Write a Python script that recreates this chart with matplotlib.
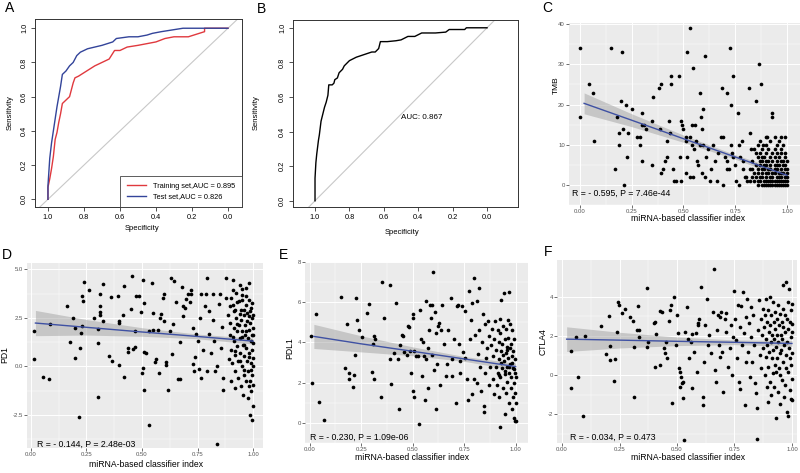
import matplotlib
matplotlib.use("Agg")
import matplotlib.pyplot as plt

plt.rcParams["font.family"] = ["Liberation Sans", "DejaVu Sans"]

W, H = 800, 473

# ---------------- ROC data ----------------
train_spec = [1.0, 1.0, 0.99, 0.98, 0.97, 0.96, 0.95, 0.94, 0.93, 0.92, 0.90, 0.88, 0.87, 0.86,
              0.85, 0.83, 0.80, 0.77, 0.74, 0.70, 0.66, 0.63, 0.60, 0.56, 0.50, 0.45, 0.40,
              0.35, 0.30, 0.22, 0.13, 0.13, 0.0]
train_sens = [0.0, 0.07, 0.12, 0.18, 0.25, 0.35, 0.39, 0.45, 0.50, 0.56, 0.58, 0.60, 0.64, 0.68,
              0.71, 0.72, 0.74, 0.76, 0.78, 0.80, 0.82, 0.87, 0.87, 0.89, 0.90, 0.91, 0.92,
              0.94, 0.95, 0.95, 0.98, 1.0, 1.0]
test_spec = [1.0, 1.0, 0.99, 0.98, 0.97, 0.96, 0.95, 0.94, 0.93, 0.92, 0.91, 0.90, 0.88, 0.86,
             0.84, 0.82, 0.80, 0.78, 0.74, 0.70, 0.64, 0.62, 0.55, 0.50, 0.45, 0.42, 0.37,
             0.25, 0.15, 0.0]
test_sens = [0.0, 0.08, 0.24, 0.33, 0.40, 0.47, 0.54, 0.60, 0.66, 0.73, 0.74, 0.75, 0.78, 0.80,
             0.84, 0.86, 0.87, 0.88, 0.89, 0.90, 0.92, 0.94, 0.95, 0.95, 0.96, 0.97, 0.98,
             1.0, 1.0, 1.0]
all_spec = [1.0, 1.0, 0.995, 0.99, 0.985, 0.98, 0.975, 0.97, 0.965, 0.955, 0.945, 0.935, 0.925,
            0.92, 0.90, 0.89, 0.885, 0.87, 0.86, 0.85, 0.84, 0.83, 0.82, 0.80, 0.78, 0.76,
            0.73, 0.70, 0.67, 0.65, 0.63, 0.62, 0.58, 0.53, 0.50, 0.46, 0.42, 0.38, 0.30,
            0.24, 0.22, 0.13, 0.12, 0.0]
all_sens = [0.0, 0.13, 0.22, 0.27, 0.31, 0.35, 0.38, 0.42, 0.46, 0.50, 0.54, 0.57, 0.61,
            0.67, 0.67, 0.68, 0.70, 0.71, 0.74, 0.75, 0.76, 0.78, 0.79, 0.81, 0.82, 0.83,
            0.84, 0.85, 0.86, 0.86, 0.88, 0.92, 0.92, 0.925, 0.93, 0.95, 0.95, 0.97, 0.97,
            0.975, 0.99, 0.99, 1.0, 1.0]
roc_labels = ["Training set,AUC = 0.895", "Test set,AUC = 0.826"]
auc_all = "AUC: 0.867"

# ---------------- scatter data ----------------
tmb_points = [
    (0.00, 34), (0.00, 17), (0.045, 25), (0.065, 23), (0.07, 11), (0.15, 34), (0.205, 33),
    (0.20, 21), (0.22, 20), (0.18, 17), (0.19, 13), (0.19, 10), (0.17, 4), (0.21, 14),
    (0.23, 13), (0.225, 7), (0.215, 0), (0.25, 19), (0.275, 12), (0.29, 12), (0.29, 10),
    (0.30, 18), (0.30, 15), (0.31, 15), (0.32, 14), (0.30, 6), (0.355, 22), (0.35, 16),
    (0.38, 24), (0.39, 25), (0.385, 14), (0.39, 3), (0.40, 4), (0.35, 5), (0.41, 6),
    (0.42, 11), (0.43, 16), (0.44, 27), (0.44, 25), (0.435, 13), (0.42, 7), (0.45, 4),
    (0.455, 1), (0.465, 1), (0.48, 27), (0.49, 16), (0.495, 15), (0.50, 14), (0.485, 7),
    (0.49, 1), (0.51, 12), (0.51, 11), (0.51, 3), (0.515, 7), (0.53, 39), (0.515, 33),
    (0.545, 29), (0.555, 15), (0.54, 15), (0.53, 2), (0.545, 2), (0.53, 12), (0.54, 10),
    (0.55, 9), (0.56, 11), (0.565, 6), (0.57, 5), (0.58, 23), (0.585, 17), (0.595, 19),
    (0.605, 32), (0.59, 14), (0.58, 10), (0.595, 10), (0.59, 3), (0.605, 2), (0.61, 7),
    (0.62, 9), (0.63, 1), (0.635, 4), (0.645, 10), (0.65, 6), (0.66, 1), (0.665, 8),
    (0.68, 12), (0.685, 24), (0.69, 0), (0.69, 12), (0.70, 7), (0.71, 23), (0.71, 6),
    (0.71, 4), (0.72, 4), (0.725, 34), (0.73, 20), (0.73, 10), (0.74, 27), (0.735, 8),
    (0.74, 7), (0.75, 5), (0.755, 1), (0.765, 18), (0.77, 10), (0.77, 0), (0.775, 7),
    (0.785, 11), (0.79, 6), (0.79, 4), (0.795, 2), (0.805, 1), (0.815, 24), (0.82, 13),
    (0.825, 9), (0.83, 4), (0.85, 21), (0.865, 30), (0.875, 25), (0.93, 18), (0.93, 17),
    (0.94, 12), (0.905, 12), (0.885, 10), (0.99, 12),
]
tmb_rows = {
    0: [0.86, 0.88, 0.89, 0.90, 0.91, 0.92, 0.93, 0.94, 0.95, 0.96, 0.97, 0.98, 0.99, 1.0],
    1: [0.82, 0.84, 0.86, 0.87, 0.89, 0.90, 0.91, 0.92, 0.93, 0.94, 0.95, 0.96, 0.97, 0.98, 0.99, 1.0],
    2: [0.80, 0.83, 0.85, 0.87, 0.88, 0.90, 0.92, 0.93, 0.95, 0.96, 0.97, 0.99, 1.0],
    3: [0.84, 0.86, 0.88, 0.90, 0.91, 0.93, 0.94, 0.96, 0.97, 0.98, 1.0],
    4: [0.82, 0.86, 0.88, 0.89, 0.91, 0.92, 0.94, 0.95, 0.97, 0.99, 1.0],
    5: [0.85, 0.87, 0.89, 0.90, 0.92, 0.94, 0.95, 0.96, 0.98, 0.99],
    6: [0.83, 0.87, 0.88, 0.90, 0.91, 0.93, 0.95, 0.97, 0.98, 1.0],
    7: [0.86, 0.88, 0.89, 0.92, 0.94, 0.96, 0.99],
    8: [0.85, 0.87, 0.90, 0.93, 0.95, 0.97, 0.99],
    9: [0.84, 0.88, 0.91, 0.94, 0.97],
    10: [0.86, 0.90, 0.95, 0.98],
    11: [0.87, 0.92, 0.96],
    12: [0.90, 0.97],
}

pd1_points = [
    (0.015, 1.8), (0.015, 0.4), (0.055, -0.55), (0.08, -0.65), (0.085, 2.2), (0.16, 3.1),
    (0.175, 1.25), (0.19, 2.5), (0.2, 2.0), (0.2, 0.45), (0.215, -2.6), (0.22, 0.95),
    (0.225, 1.7), (0.23, 3.6), (0.235, 3.35), (0.24, 4.35), (0.23, 2.1), (0.26, 3.95),
    (0.285, 2.5), (0.30, -1.55), (0.30, 1.2), (0.30, 1.9), (0.31, 3.1), (0.31, 2.8),
    (0.31, 2.65), (0.31, 3.75), (0.325, 4.25), (0.325, 2.35), (0.35, 0.55), (0.36, 3.55),
    (0.365, 0.3), (0.39, 3.6), (0.395, 2.35), (0.395, 2.25), (0.395, 0.05), (0.42, 4.15),
    (0.42, -0.55), (0.415, 2.65), (0.435, 0.95), (0.435, 0.75), (0.45, 2.95), (0.455, 4.65),
    (0.46, 0.9), (0.47, 1.0), (0.47, 1.8), (0.475, 3.6), (0.485, 3.6), (0.495, 2.8),
    (0.505, 4.45), (0.51, 0.75), (0.51, 3.25), (0.505, -0.1), (0.5, -0.35), (0.51, -1.2),
    (0.52, 0.7), (0.53, 1.8), (0.53, -3.0), (0.545, 4.3), (0.55, 1.85), (0.55, 2.75),
    (0.56, 0.2), (0.565, 0.4), (0.57, 1.85), (0.575, -0.35), (0.58, 2.5), (0.585, 2.7),
    (0.595, 3.5), (0.6, 3.75), (0.6, 2.35), (0.61, 0.25), (0.61, 0.05), (0.615, -1.2),
    (0.625, 1.8), (0.63, 4.55), (0.635, 0.65), (0.64, 2.2), (0.645, 4.4), (0.655, 3.3),
    (0.66, -0.65), (0.67, -0.65), (0.67, 1.25), (0.68, 4.1), (0.685, 3.1), (0.685, 2.6),
    (0.695, 3.0), (0.7, 3.45), (0.705, 3.7), (0.715, 3.3), (0.72, 3.95), (0.72, 3.75),
    (0.73, 1.95), (0.73, 0.1), (0.735, -0.25), (0.74, 0.5), (0.745, 1.65), (0.75, 1.3),
    (0.755, -0.15), (0.76, 2.5), (0.765, -0.6), (0.765, 3.7), (0.775, 0.85), (0.785, 3.1),
    (0.79, 3.7), (0.795, 4.55), (0.795, -0.25), (0.8, 2.85), (0.8, 1.65), (0.81, 0.7),
    (0.82, 3.7), (0.82, 2.4), (0.825, 1.3), (0.83, -0.25), (0.84, 0.0), (0.84, -4.0),
    (0.845, 3.2), (0.85, 3.75), (0.855, 0.95), (0.86, 2.05), (0.865, -1.2), (0.865, -0.6),
    (0.88, 4.55), (0.88, 3.5),
    (0.888, 2.66), (0.895, 3.09), (0.895, 2.23), (0.898, 1.63), (0.901, 0.86), (0.903, -0.77),
    (0.906, 0.17), (0.91, 4.47), (0.91, 3.95), (0.91, 3.18), (0.913, 2.84), (0.915, 1.98),
    (0.916, 1.29), (0.918, 0.6), (0.919, -0.26), (0.921, -1.12), (0.925, 3.78), (0.925, 2.49),
    (0.928, 1.8), (0.93, 1.03), (0.931, 0.26), (0.933, -0.6), (0.937, 3.35), (0.937, 2.15),
    (0.94, 4.21), (0.94, 1.46), (0.943, 0.69), (0.945, -1.03), (0.948, 2.92), (0.948, 2.41),
    (0.949, 0.0), (0.952, 3.69), (0.952, 1.8), (0.955, 1.12), (0.955, -1.46), (0.958, 2.66),
    (0.96, 0.52), (0.961, -0.43), (0.963, 2.15), (0.964, 1.63), (0.967, 4.04), (0.967, 3.18),
    (0.97, 0.95), (0.97, -0.77), (0.972, 0.26), (0.973, 2.75), (0.975, 2.32), (0.976, -1.63),
    (0.978, 1.46), (0.979, -0.26), (0.981, 3.44), (0.982, 1.89), (0.984, 0.69), (0.985, 2.84),
    (0.985, -2.49), (0.987, -0.77), (0.988, 2.23), (0.99, 1.29), (0.991, 0.17), (0.993, -1.29),
    (0.994, -2.75), (0.994, 3.26), (0.996, 2.49), (0.996, 1.63), (0.997, 0.86), (0.997, -0.43),
    (0.999, 0.43), (0.999, -2.06), (0.999, 1.2), (0.999, 2.66), (0.999, 0.0), (0.999, 1.98),
    (0.999, -0.95), (0.999, 1.63), (0.92, 2.9), (0.93, 3.3), (0.94, 2.7), (0.95, 3.4),
    (0.96, 2.9), (0.97, 3.6), (0.98, 2.6), (0.99, 3.0), (0.93, 2.2), (0.95, 1.5), (0.96, 1.1),
    (0.98, 0.5), (0.99, -0.2), (0.97, 1.8), (0.92, 0.8), (0.94, 0.3), (0.96, -0.2),
    (0.98, -1.0), (0.91, 1.5), (0.89, 0.4), (0.9, 3.5), (0.95, 4.0), (0.98, 4.3),
]

pdl1_points = [
    (0.008, 4.33), (0.01, 2.0), (0.03, 5.4), (0.045, 1.06), (0.07, 0.15), (0.15, 6.26),
    (0.18, 4.9), (0.17, 2.75), (0.19, 2.5), (0.19, 2.2), (0.21, 1.77), (0.215, 2.38),
    (0.22, 3.4), (0.225, 6.2), (0.23, 5.13), (0.24, 4.6), (0.255, 4.27), (0.28, 5.48),
    (0.29, 5.93), (0.3, 2.52), (0.305, 3.92), (0.31, 4.33), (0.31, 2.19), (0.315, 4.15),
    (0.35, 7.02), (0.36, 5.24), (0.348, 1.28), (0.39, 6.87), (0.39, 3.17), (0.395, 1.92),
    (0.42, 5.96), (0.41, 3.47), (0.43, 3.17), (0.435, 0.68), (0.44, 3.85), (0.45, 4.38),
    (0.455, 4.3), (0.46, 3.5), (0.47, 3.4), (0.475, 4.83), (0.48, 4.75), (0.487, 3.55),
    (0.49, 2.49), (0.5, 5.43), (0.503, 5.2), (0.505, 3.55), (0.503, 1.58), (0.506, 1.28),
    (0.516, 3.32), (0.524, 3.32), (0.53, -0.08), (0.537, 5.63), (0.54, 4.15), (0.545, 2.34),
    (0.548, 4.0), (0.556, 3.32), (0.56, 1.13), (0.564, 6.04), (0.567, 3.17), (0.572, 1.74),
    (0.575, 3.7), (0.58, 4.6), (0.585, 5.84), (0.588, 5.2), (0.593, 5.84), (0.596, 3.4),
    (0.6, 7.5), (0.604, 2.61), (0.61, 5.5), (0.612, 0.68), (0.615, 4.48), (0.62, 2.94),
    (0.625, 4.83), (0.628, 4.98), (0.633, 1.89), (0.636, 4.6), (0.644, 5.84), (0.652, 3.92),
    (0.66, 2.34), (0.668, 2.94), (0.673, 4.6), (0.684, 6.23), (0.69, 2.34), (0.692, 3.17),
    (0.7, 4.15), (0.708, 0.98), (0.713, 5.81), (0.718, 5.84), (0.724, 3.92), (0.728, 2.49),
    (0.732, 3.09), (0.74, 5.81), (0.745, 3.52), (0.753, 5.58), (0.756, 3.25), (0.764, 2.19),
    (0.77, 1.13), (0.775, 6.54), (0.78, 4.15), (0.784, 5.13), (0.788, 5.96), (0.79, 1.43),
    (0.796, 7.2), (0.8, 2.19), (0.805, 4.38), (0.81, 6.04), (0.812, 1.96), (0.817, 3.43),
    (0.82, 6.72), (0.824, 4.6), (0.829, 2.79), (0.833, 1.58), (0.836, 4.0), (0.84, 5.43),
    (0.845, 0.53), (0.845, 0.83), (0.85, 4.9), (0.853, 2.49), (0.856, 3.25), (0.86, 3.7),
    (0.865, 5.06), (0.869, 1.89), (0.872, 4.3),
    (0.877, 2.79), (0.881, 3.85), (0.885, 4.68), (0.888, 2.19), (0.891, 3.32), (0.894, 1.43),
    (0.897, 4.15), (0.9, 5.06), (0.904, 2.79), (0.907, 3.62), (0.909, 1.89), (0.912, 4.6),
    (0.913, 2.49), (0.917, 4.0), (0.918, 3.17), (0.92, 1.28), (0.922, 5.18), (0.925, 2.26),
    (0.925, -0.2), (0.926, 4.45), (0.929, 3.55), (0.93, 6.1), (0.933, 2.72), (0.936, 3.92),
    (0.937, 1.74), (0.941, 4.83), (0.942, 3.09), (0.944, 6.45), (0.946, 0.45), (0.947, 2.42),
    (0.949, 4.15), (0.952, 3.47), (0.954, 1.51), (0.955, 4.68), (0.957, 2.79), (0.958, 3.77),
    (0.96, 2.04), (0.962, 5.13), (0.963, 3.25), (0.965, 4.22), (0.966, 0.98), (0.968, 6.49),
    (0.969, 2.49), (0.971, 3.7), (0.973, 2.94), (0.974, 4.9), (0.976, 1.74), (0.978, 3.92),
    (0.979, 2.26), (0.981, 3.32), (0.982, 0.68), (0.984, 4.6), (0.986, 2.72), (0.987, 1.28),
    (0.989, 3.55), (0.99, 1.96), (0.992, 4.15), (0.994, 0.23), (0.995, 0.08), (0.997, 2.49),
    (0.997, 3.17), (0.998, 1.51), (1.0, 0.98), (1.0, 2.26), (1.0, 0.08), (0.93, 3.0),
    (0.95, 2.6), (0.96, 3.6), (0.97, 2.8), (0.98, 3.0), (0.99, 2.7), (0.94, 3.4), (0.92, 2.4),
]

ctla4_points = [
    (0.037, -0.64), (0.037, 1.22), (0.06, 1.95), (0.07, -0.08), (0.09, -2.08), (0.1, 1.98),
    (0.17, 2.5), (0.19, 1.05), (0.205, 3.0), (0.21, 0.76), (0.21, 1.49), (0.227, -0.29),
    (0.23, 0.81), (0.24, 2.17), (0.242, 3.73), (0.248, 3.56), (0.26, 3.14), (0.274, 3.39),
    (0.296, 2.97), (0.308, 2.75), (0.315, -1.1), (0.315, 1.44), (0.326, 2.29), (0.33, 3.53),
    (0.336, 2.29), (0.333, 1.95), (0.37, 4.44), (0.37, 1.44), (0.374, 1.69), (0.4, 2.63),
    (0.403, 2.71), (0.403, 0.42), (0.41, 2.08), (0.424, 0.51), (0.428, 3.25), (0.435, 3.22),
    (0.443, 1.36), (0.447, 1.1), (0.45, 1.69), (0.457, 0.88), (0.465, 2.75), (0.47, 3.3),
    (0.472, 3.56), (0.48, -1.44), (0.487, 3.98), (0.494, 1.53), (0.501, 3.08), (0.504, 2.12),
    (0.509, 0.34), (0.512, -0.59), (0.513, 0.17), (0.518, -0.08), (0.523, -0.39),
    (0.526, -0.37), (0.53, -3.3), (0.528, -1.19), (0.535, 2.2), (0.545, 3.47), (0.55, 1.86),
    (0.553, 0.85), (0.56, 1.69), (0.564, 2.07), (0.567, -0.68), (0.575, 1.19), (0.582, 2.12),
    (0.587, 0.17), (0.59, 2.54), (0.592, 2.63), (0.597, 2.88), (0.604, 4.49), (0.611, -1.1),
    (0.614, -1.53), (0.619, 0.68), (0.623, 2.54), (0.629, 3.9), (0.633, 1.53), (0.64, 2.03),
    (0.648, 1.1), (0.655, 3.22), (0.663, 5.42), (0.667, 0.25), (0.67, -0.34), (0.673, 2.29),
    (0.677, 3.05), (0.682, 1.53), (0.685, 0.93), (0.688, 2.97), (0.692, 3.22), (0.696, 1.19),
    (0.699, -0.85), (0.707, 2.88), (0.711, 3.17), (0.714, 2.2), (0.721, 0.42), (0.729, 1.36),
    (0.733, 2.54), (0.74, 0.0), (0.743, 1.95), (0.748, 4.27), (0.754, 2.88), (0.758, 1.78),
    (0.761, 0.85), (0.765, 3.56), (0.77, -0.34), (0.773, -0.71), (0.776, 2.46), (0.78, 3.51),
    (0.784, 1.53), (0.787, 4.24), (0.79, 2.12), (0.795, -1.53), (0.798, 0.68), (0.802, 2.97),
    (0.806, 3.9), (0.81, 1.19), (0.814, 2.63), (0.817, -0.08), (0.82, 1.95), (0.824, 3.47),
    (0.827, 0.68), (0.831, 3.05), (0.834, 1.53), (0.839, -0.42), (0.843, -0.93),
    (0.846, -3.25), (0.849, -1.69), (0.853, 2.29), (0.856, 3.81), (0.861, 1.02), (0.864, 2.88),
    (0.867, 0.34), (0.87, 2.03), (0.872, 3.39),
    (0.875, 1.36), (0.878, 2.46), (0.881, 0.0), (0.882, 3.05), (0.885, 1.86), (0.886, 3.9),
    (0.889, 0.93), (0.89, -0.59), (0.891, 2.71), (0.893, 1.53), (0.895, -1.36), (0.897, 3.3),
    (0.898, 0.42), (0.9, 2.2), (0.902, 1.19), (0.903, 3.98), (0.905, -0.34), (0.906, 2.54),
    (0.908, 1.69), (0.91, -1.02), (0.911, 3.05), (0.913, 0.85), (0.914, 2.03), (0.916, 0.08),
    (0.917, 3.73), (0.919, 1.27), (0.92, 2.71), (0.922, -0.59), (0.923, 1.86), (0.925, 0.51),
    (0.926, 3.22), (0.928, 2.37), (0.929, -2.2), (0.93, 1.44), (0.932, 0.17), (0.934, 2.88),
    (0.935, 0.85), (0.937, 2.03), (0.938, -0.85), (0.94, 3.56), (0.941, 1.69), (0.943, 0.34),
    (0.944, 2.54), (0.946, 1.1), (0.947, -1.5), (0.949, 3.13), (0.95, 0.0), (0.952, 2.03),
    (0.953, 1.27), (0.955, 2.71), (0.956, -0.25), (0.958, 1.86), (0.959, 3.39), (0.96, 0.68),
    (0.962, 4.6), (0.963, 2.46), (0.965, -1.1), (0.966, 1.53), (0.968, 3.05), (0.969, -0.5),
    (0.971, 2.2), (0.972, 0.34), (0.974, 4.75), (0.975, 1.02), (0.977, 2.88), (0.978, -1.87),
    (0.979, 1.69), (0.981, 3.73), (0.982, 0.17), (0.984, 2.37), (0.985, -2.1), (0.987, 1.36),
    (0.988, 4.4), (0.99, -0.76), (0.991, 2.71), (0.993, 0.85), (0.994, 1.95), (0.996, -1.2),
    (0.997, 3.3), (0.998, 0.5), (0.999, 2.2), (0.999, 1.1), (0.999, -0.2), (0.999, 3.6),
    (0.999, -1.3), (0.999, 2.6),
]

# fitted lines with confidence band half-widths
fit_x = [0.02, 0.25, 0.5, 0.75, 1.0]
tmb_fit = [20.3, 16.1, 11.5, 6.96, 2.4]
tmb_band = [2.6, 1.6, 0.9, 0.55, 0.85]
pd1_fit = [2.23, 2.01, 1.77, 1.54, 1.30]
pd1_band = [0.65, 0.4, 0.22, 0.12, 0.15]
pdl1_fit = [4.30, 3.93, 3.56, 3.18, 2.80]
pdl1_band = [0.6, 0.4, 0.22, 0.12, 0.17]
ctla4_fit = [1.83, 1.78, 1.72, 1.67, 1.61]
ctla4_band = [0.63, 0.4, 0.22, 0.12, 0.15]

stats_text = ["R = - 0.595, P = 7.46e-44", "R = - 0.144, P = 2.48e-03",
              "R = - 0.230, P = 1.09e-06", "R = - 0.034, P = 0.473"]

fig = plt.figure(figsize=(W / 100, H / 100), dpi=100)


def add_axes_px(left, top, right, bottom):
    return fig.add_axes([left / W, 1 - bottom / H, (right - left) / W, (bottom - top) / H])


def ftext(x, y, s, **kw):
    fig.text(x / W, 1 - y / H, s, **kw)


def style_roc(ax, xlim, ylim):
    ax.set_xlim(*xlim)
    ax.set_ylim(*ylim)
    ticks = [0.0, 0.2, 0.4, 0.6, 0.8, 1.0]
    ax.set_xticks(ticks)
    ax.set_xticklabels([f"{t:.1f}" for t in ticks])
    ax.set_yticks(ticks)
    ax.set_yticklabels([f"{t:.1f}" for t in ticks], rotation=90, va="center")
    ax.tick_params(direction="out", length=3, width=0.6, labelsize=5.3, pad=2,
                   color="#333333")
    for s in ax.spines.values():
        s.set_linewidth(0.7)
        s.set_color("#333333")
    # diagonal reference across the whole panel
    ax.plot([xlim[0], xlim[1]], [1 - xlim[0], 1 - xlim[1]], color="#c8c8c8", lw=0.8, zorder=1)


def style_gg(ax, xlim, ylim, yticks, ylabels):
    ax.set_facecolor("#EBEBEB")
    for s in ax.spines.values():
        s.set_visible(False)
    ax.set_xlim(*xlim)
    ax.set_ylim(*ylim)
    ax.set_xticks([0, 0.25, 0.5, 0.75, 1.0])
    ax.set_xticklabels(["0.00", "0.25", "0.50", "0.75", "1.00"])
    ax.set_xticks([0.125, 0.375, 0.625, 0.875], minor=True)
    ax.set_yticks(yticks)
    ax.set_yticklabels(ylabels)
    step = yticks[1] - yticks[0]
    ax.set_yticks([t + step / 2 for t in yticks[:-1]] + [yticks[0] - step / 2], minor=True)
    ax.set_axisbelow(True)
    ax.grid(which="major", color="white", lw=0.7)
    ax.grid(which="minor", color="white", lw=0.35)
    ax.tick_params(which="minor", length=0)
    ax.tick_params(which="major", length=2, width=0.5, color="#333333", labelsize=4.3,
                   labelcolor="#555555", pad=1)


def draw_scatter(ax, points, fit, band):
    xs = [p[0] for p in points]
    ys = [p[1] for p in points]
    lo = [f - b for f, b in zip(fit, band)]
    hi = [f + b for f, b in zip(fit, band)]
    ax.fill_between(fit_x, lo, hi, color="#999999", alpha=0.45, lw=0, zorder=2)
    ax.scatter(xs, ys, s=7, color="black", lw=0, zorder=3)
    ax.plot(fit_x, fit, color="#3f51a3", lw=1.0, zorder=4)


# ---------------- A ----------------
axA = add_axes_px(35, 19, 242, 207)
style_roc(axA, (1.072, -0.078), (-0.045, 1.054))
axA.plot(train_spec, train_sens, color="#e0393e", lw=1.0, label=roc_labels[0], zorder=3)
axA.plot(test_spec, test_sens, color="#33449a", lw=1.0, label=roc_labels[1], zorder=3)
leg = axA.legend(loc="lower right", fontsize=5.3, borderaxespad=0, frameon=True,
                 fancybox=False, handlelength=2.6, borderpad=0.9, labelspacing=0.5,
                 handletextpad=1.0)
leg.get_frame().set_edgecolor("#333333")
leg.get_frame().set_linewidth(0.7)
ftext(142, 229, "Specificity", fontsize=5.5, ha="center", va="center")
ftext(10, 113, "Sensitivity", fontsize=5.5, ha="center", va="center", rotation=90)

# ---------------- B ----------------
axB = add_axes_px(293, 20, 518, 207)
style_roc(axB, (1.128, -0.18), (-0.036, 1.045))
axB.plot(all_spec, all_sens, color="black", lw=1.0, zorder=3)
axB.text(0.5, 0.48, auc_all, fontsize=5.8, ha="left", va="center")
ftext(402, 232, "Specificity", fontsize=5.5, ha="center", va="center")
ftext(256, 113, "Sensitivity", fontsize=5.5, ha="center", va="center", rotation=90)

# ---------------- C ----------------
axC = add_axes_px(569, 23, 800, 205)
style_gg(axC, (-0.053, 1.063), (-1.45, 40.3), [0, 10, 20, 30, 40], ["0", "10", "20", "30", "40"])
tmb_all = list(tmb_points)
for row_y, row_x in tmb_rows.items():
    tmb_all += [(x, row_y) for x in row_x]
draw_scatter(axC, tmb_all, tmb_fit, tmb_band)
ftext(688, 218, "miRNA-based classifier index", fontsize=6.2, ha="center", va="center")
ftext(556, 85, "TMB", fontsize=6, ha="center", va="center", rotation=90)
ftext(572, 193, stats_text[0], fontsize=6.3, ha="left", va="center")

# ---------------- D ----------------
axD = add_axes_px(27, 263, 263, 448)
style_gg(axD, (-0.018, 1.045), (-4.2, 5.32), [-2.5, 0.0, 2.5, 5.0], ["-2.5", "0.0", "2.5", "5.0"])
draw_scatter(axD, pd1_points, pd1_fit, pd1_band)
ftext(146, 464, "miRNA-based classifier index", fontsize=6.2, ha="center", va="center")
ftext(5, 355, "PD1", fontsize=6.2, ha="center", va="center", rotation=90)
ftext(37, 444, stats_text[1], fontsize=6.3, ha="left", va="center")

# ---------------- E ----------------
axE = add_axes_px(305, 262, 528, 443)
style_gg(axE, (-0.023, 1.06), (-0.3, 7.92), [0, 2, 4, 6, 8], ["0", "2", "4", "6", "8"])
draw_scatter(axE, pdl1_points, pdl1_fit, pdl1_band)
ftext(412, 457, "miRNA-based classifier index", fontsize=6.2, ha="center", va="center")
ftext(290, 348, "PDL1", fontsize=6.2, ha="center", va="center", rotation=90)
ftext(310, 437, stats_text[2], fontsize=6.3, ha="left", va="center")

# ---------------- F ----------------
axF = add_axes_px(557, 260, 797, 443)
style_gg(axF, (-0.022, 1.022), (-3.47, 5.87), [-2, 0, 2, 4], ["-2", "0", "2", "4"])
draw_scatter(axF, ctla4_points, ctla4_fit, ctla4_band)
ftext(688, 457, "miRNA-based classifier index", fontsize=6.2, ha="center", va="center")
ftext(543, 342, "CTLA4", fontsize=6.2, ha="center", va="center", rotation=90)
ftext(570, 437, stats_text[3], fontsize=6.3, ha="left", va="center")

# panel letters
for letter, (x, y) in zip("ABCDEF", [(10, 8), (262, 9), (547, 8), (7, 255), (284, 255), (548, 252)]):
    ftext(x, y, letter, fontsize=10, ha="center", va="center")

fig.savefig("out.png", dpi=100)
